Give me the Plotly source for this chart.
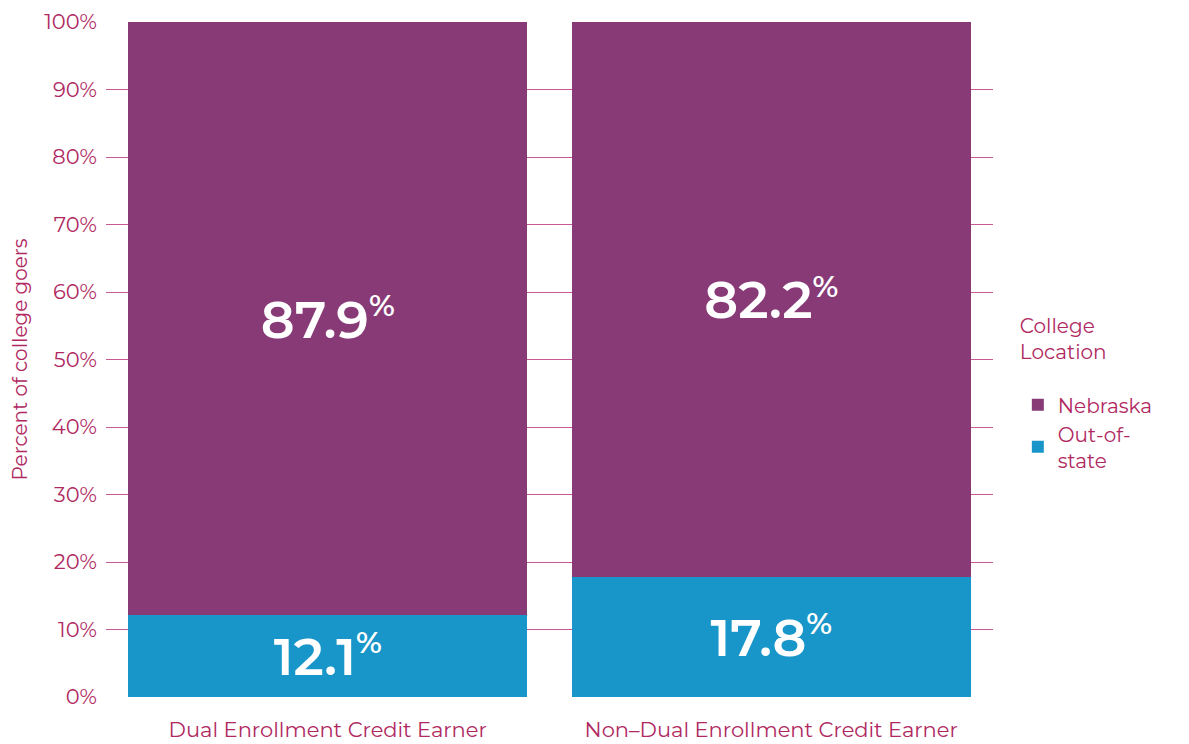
import plotly.graph_objects as go

categories = ["Dual Enrollment Credit Earner", "Non\u2013Dual Enrollment Credit Earner"]
out_of_state = [12.1, 17.8]
nebraska = [87.9, 82.2]
tick_vals = [0, 10, 20, 30, 40, 50, 60, 70, 80, 90, 100]
tick_text = [f"{v}%" for v in tick_vals]

PURPLE = "#883a77"
BLUE = "#1896c9"
TEXTC = "#b0285f"
GRID = "#c75a94"
FONT = "Montserrat, 'Open Sans', Lato, sans-serif"


def lbl(v):
    return f"{v}<sup><span style='font-size:30px'>%</span></sup>"


fig = go.Figure()
fig.add_trace(go.Bar(
    x=categories, y=out_of_state, name="Out-of-<br>state",
    marker=dict(color=BLUE, line=dict(width=0)),
    text=[lbl(v) for v in out_of_state],
    textposition="inside", insidetextanchor="middle",
    textfont=dict(color="white", size=52, family=FONT, weight=600),
))
fig.add_trace(go.Bar(
    x=categories, y=nebraska, name="Nebraska",
    marker=dict(color=PURPLE, line=dict(width=0)),
    text=[lbl(v) for v in nebraska],
    textposition="inside", insidetextanchor="middle",
    textfont=dict(color="white", size=52, family=FONT, weight=600),
))

fig.update_layout(
    width=1181, height=736,
    barmode="stack", bargap=0.1,
    plot_bgcolor="white", paper_bgcolor="white",
    margin=dict(l=98, r=196, t=14, b=47, autoexpand=False),
    font=dict(family=FONT, color=TEXTC),
    legend=dict(
        title=dict(text="College<br>Location<br> ", font=dict(size=20, color=TEXTC)),
        traceorder="reversed",
        x=1.028, xanchor="left", y=0.45, yanchor="middle",
        font=dict(size=20, color=TEXTC),
        itemsizing="constant",
    ),
    xaxis=dict(
        showgrid=False, showline=False, zeroline=False,
        tickfont=dict(size=21, color=TEXTC),
        ticks="", ticklabelstandoff=18, automargin=False,
    ),
    yaxis=dict(
        range=[0, 100], tickvals=tick_vals, ticktext=tick_text,
        showgrid=True, gridcolor=GRID, gridwidth=1,
        zeroline=False, showline=False, automargin=False,
        tickfont=dict(size=21, color=TEXTC),
        title=dict(text="Percent of college goers", font=dict(size=20, color=TEXTC), standoff=12),
        ticklabelstandoff=8,
    ),
)

fig.write_html("out.html")
